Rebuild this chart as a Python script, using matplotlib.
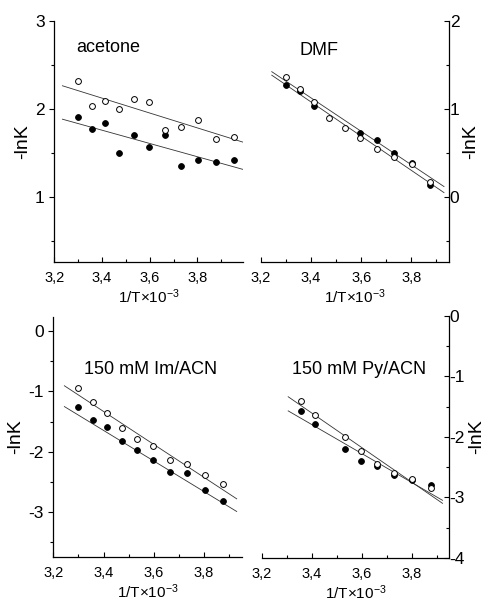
import matplotlib
matplotlib.use("Agg")
import matplotlib.pyplot as plt
from matplotlib.ticker import MultipleLocator, FuncFormatter

plt.rcParams.update({
    "font.family": ["Liberation Sans", "DejaVu Sans"],
    "mathtext.fontset": "custom",
    "mathtext.rm": "Liberation Sans",
    "mathtext.default": "regular",
    "axes.linewidth": 0.9,
})

# ── data: x = 1/T x 10^-3 ───────────────────────────────────────────
x_all = [3.300, 3.356, 3.413, 3.472, 3.534, 3.597, 3.663, 3.731, 3.802, 3.876, 3.953]

ace_open = [2.31, 2.03, 2.09, 2.00, 2.11, 2.08, 1.76, 1.79, 1.87, 1.66, 1.68]
ace_fill = [1.90, 1.77, 1.84, 1.50, 1.70, 1.56, 1.70, 1.35, 1.42, 1.39, 1.42]
ace_fit_x = [3.234, 3.99]
ace_fit_open = [2.26, 1.62]
ace_fit_fill = [1.88, 1.31]

dmf_x_open = x_all[:10]
dmf_open = [1.36, 1.22, 1.07, 0.895, 0.78, 0.67, 0.54, 0.45, 0.367, 0.17]
dmf_x_fill = [3.300, 3.356, 3.413, 3.597, 3.663, 3.731, 3.802, 3.876]
dmf_fill = [1.265, 1.20, 1.027, 0.725, 0.64, 0.50, 0.385, 0.13]
dmf_fit_x = [3.244, 3.93]
dmf_fit_open = [1.42, 0.114]
dmf_fit_fill = [1.38, 0.045]

im_x = x_all[:10]
im_open = [-0.95, -1.18, -1.36, -1.60, -1.78, -1.90, -2.14, -2.21, -2.39, -2.53]
im_fill = [-1.26, -1.48, -1.59, -1.82, -1.97, -2.13, -2.34, -2.36, -2.64, -2.82]
im_fit_x = [3.244, 3.93]
im_fit_open = [-0.905, -2.78]
im_fit_fill = [-1.25, -2.99]

py_x = [3.356, 3.413, 3.534, 3.597, 3.663, 3.731, 3.802, 3.876]
py_open = [-1.40, -1.63, -2.00, -2.23, -2.45, -2.60, -2.69, -2.84]
py_fill = [-1.57, -1.79, -2.20, -2.40, -2.48, -2.63, -2.72, -2.80]
py_fit_x = [3.306, 3.924]
py_fit_open = [-1.336, -3.10]
py_fit_fill = [-1.57, -3.05]

panels = [
    # name, axes rect, xlim, ylim, side, title pos, series
    ("acetone", [0.1106, 0.5646, 0.3837, 0.4010], (3.2, 3.99), (0.26, 3.0), "left",
     (0.115, 0.89, "left"),
     (x_all, ace_open, x_all, ace_fill, ace_fit_x, ace_fit_open, ace_fit_fill)),
    ("DMF", [0.5310, 0.5646, 0.3835, 0.4010], (3.2, 3.95), (-0.74, 2.0), "right",
     (0.31, 0.878, "center"),
     (dmf_x_open, dmf_open, dmf_x_fill, dmf_fill, dmf_fit_x, dmf_fit_open, dmf_fit_fill)),
    ("150 mM Im/ACN", [0.1086, 0.0737, 0.3837, 0.3993], (3.2, 3.95), (-3.74, 0.24), "left",
     (0.516, 0.782, "center"),
     (im_x, im_open, im_x, im_fill, im_fit_x, im_fit_open, im_fit_fill)),
    ("150 mM Py/ACN", [0.5330, 0.0720, 0.3815, 0.4022], (3.2, 3.95), (-4.0, 0.0), "right",
     (0.518, 0.78, "center"),
     (py_x, py_open, py_x, py_fill, py_fit_x, py_fit_open, py_fit_fill)),
]

fig = plt.figure(figsize=(4.91, 6.01), dpi=100)

for name, rect, xlim, ylim, side, tpos, ser in panels:
    ax = fig.add_axes(rect)
    xo, yo, xf, yf, fx, fo, ff = ser

    ax.plot(fx, fo, color="#333333", linewidth=0.6, zorder=1)
    ax.plot(fx, ff, color="#333333", linewidth=0.6, zorder=1)
    ax.plot(xf, yf, "o", markersize=4.2, markerfacecolor="black",
            markeredgecolor="black", markeredgewidth=0.6, zorder=2)
    ax.plot(xo, yo, "o", markersize=4.2, markerfacecolor="white",
            markeredgecolor="black", markeredgewidth=0.7, zorder=3)

    ax.set_xlim(*xlim)
    ax.set_ylim(*ylim)
    ax.xaxis.set_major_locator(MultipleLocator(0.2))
    ax.xaxis.set_minor_locator(MultipleLocator(0.1))
    ax.yaxis.set_major_locator(MultipleLocator(1.0))
    ax.yaxis.set_minor_locator(MultipleLocator(0.5))
    ax.xaxis.set_major_formatter(FuncFormatter(lambda v, p: f"{v:.1f}".replace(".", ",")))
    ax.yaxis.set_major_formatter(FuncFormatter(lambda v, p: f"{int(round(v))}"))

    ax.spines["top"].set_visible(False)
    ax.tick_params(axis="x", which="major", direction="in", length=3.5, width=0.8,
                   labelsize=10.5, pad=6.5)
    ax.tick_params(axis="x", which="minor", direction="in", length=2, width=0.8)

    if side == "left":
        ax.spines["right"].set_visible(False)
        ax.tick_params(axis="y", which="major", direction="out", length=3.5, width=0.8,
                       labelsize=12.5, pad=3.5)
        ax.tick_params(axis="y", which="minor", direction="out", length=2, width=0.8)
        ax.set_ylabel("-lnK", fontsize=14, labelpad=3)
    else:
        ax.spines["left"].set_visible(False)
        ax.yaxis.tick_right()
        ax.yaxis.set_label_position("right")
        ax.tick_params(axis="y", which="major", direction="in", length=3.5, width=0.8,
                       labelsize=12.5, pad=0.5)
        ax.tick_params(axis="y", which="minor", direction="in", length=2, width=0.8)
        ax.set_ylabel("-lnK", fontsize=14, labelpad=2)

    ax.set_xlabel("1/T\u00d710$^{-3}$", fontsize=11, labelpad=2)
    ax.text(tpos[0], tpos[1], name, transform=ax.transAxes, fontsize=13,
            ha=tpos[2], va="center")

fig.savefig("out.png", dpi=100)
